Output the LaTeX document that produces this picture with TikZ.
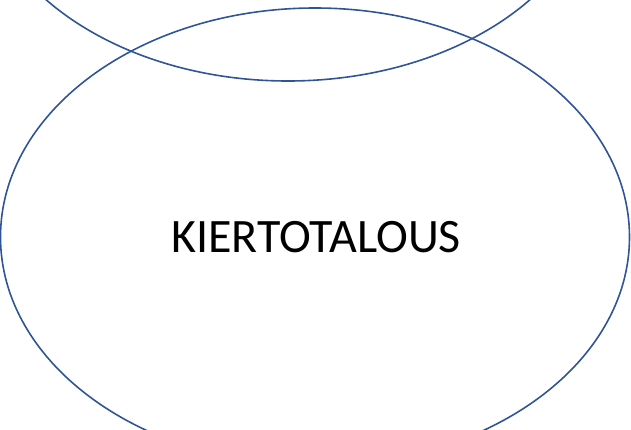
\documentclass[tikz,border=0pt]{standalone}
\usepackage{fontspec}
\setmainfont{Carlito}
\usetikzlibrary{shapes.geometric}
\definecolor{ringblue}{RGB}{47,85,151}

\begin{document}
\begin{tikzpicture}[x=1pt, y=-1pt,
  ring/.style={draw=ringblue, line width=1.6pt, ellipse, inner sep=0pt},
  label/.style={font=\fontsize{48}{56}\selectfont, text=black}]
\clip (0,0) rectangle (631,429);
\useasboundingbox (0,0) rectangle (631,429);
\node[ring, minimum width=620pt, minimum height=434pt] (upper) at (288,-136) {};
\node[ring, minimum width=629pt, minimum height=458pt] (lower) at (315,237) {};
\node[label] (title) at (316,237) {KIERTOTALOUS};
\end{tikzpicture}
\end{document}
